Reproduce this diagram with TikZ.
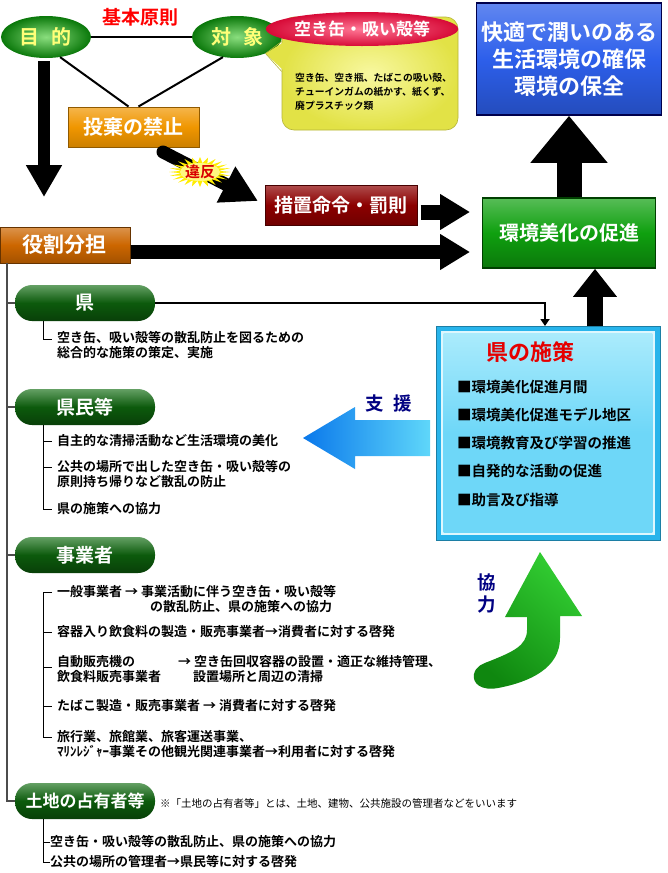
\documentclass[tikz,border=0pt]{standalone}
\usepackage{fontspec}
\setmainfont{Noto Sans CJK JP}[BoldFont={Noto Sans CJK JP Bold}]
\usetikzlibrary{arrows.meta,shapes.geometric,calc}
\newcommand{\jfs}[1]{\fontsize{#1}{#1}\selectfont}
\definecolor{ellG}{RGB}{60,200,40}
\definecolor{ellGd}{RGB}{10,120,10}
\definecolor{ellTxt}{RGB}{255,255,120}
\definecolor{orangeB}{RGB}{240,150,0}
\definecolor{orangeD}{RGB}{204,102,0}
\definecolor{redB}{RGB}{140,0,0}
\definecolor{blueB}{RGB}{45,95,235}
\definecolor{greenB}{RGB}{15,160,15}
\definecolor{pillG}{RGB}{12,90,12}
\definecolor{pillL}{RGB}{100,160,100}
\definecolor{navyT}{RGB}{0,0,130}
\definecolor{callY}{RGB}{226,226,70}
\definecolor{callL}{RGB}{248,248,160}
\definecolor{headR}{RGB}{215,10,55}
\definecolor{headL}{RGB}{255,120,150}
\definecolor{frameC}{RGB}{40,180,235}
\definecolor{panelC}{RGB}{110,215,248}
\definecolor{panelL}{RGB}{170,235,252}
\definecolor{arrB}{RGB}{10,120,235}
\definecolor{arrC}{RGB}{95,215,250}
\definecolor{arrG}{RGB}{50,205,50}
\definecolor{arrGd}{RGB}{15,135,15}
\begin{document}
\begin{tikzpicture}[x=1pt,y=-1pt,
  box/.style={rectangle, text=white, font=\bfseries\jfs{20}, inner sep=0pt},
  pill/.style={rectangle, rounded corners=17pt, minimum width=140pt, minimum height=36pt,
    top color=pillL, bottom color=pillG!70!black, middle color=pillG, text=white, font=\bfseries\jfs{19}},
  item/.style={anchor=west, font=\bfseries\fontsize{13}{15}\selectfont, align=left, inner sep=0pt},
  pitem/.style={anchor=west, font=\bfseries\jfs{14.5}, inner sep=0pt},
  vline/.style={line width=1.3pt, black!70},
  br/.style={line width=0.9pt, black},
  oval/.style={ellipse, minimum width=90pt, minimum height=42pt, shading=radial,
    inner color=ellG!60!white, outer color=ellGd, text=ellTxt, font=\bfseries\jfs{20}}
]
\useasboundingbox (0,0) rectangle (668,873);
\fill[white] (0,0) rectangle (668,873);

% ---- top left: principles ----
\node[font=\bfseries\jfs{19}, text=red] (kihon) at (140,17) {基本原則};
\node[oval] (mokuteki) at (46,37) {目\hspace{0.6em}的};
\node[oval] (taisho) at (237,37) {対\hspace{0.6em}象};
\node[box, minimum width=131pt, minimum height=40pt, top color=orangeB!70!white, bottom color=orangeB!85!black, middle color=orangeB, draw=orangeB!60!black, line width=1pt] (toki) at (133.5,127) {投棄の禁止};
\draw[line width=2.5pt] (mokuteki.east) -- (taisho.west);
\draw[line width=2pt] (mokuteki.-55) -- ([xshift=-5pt]toki.north);
\draw[line width=2pt] (taisho.-125) -- ([xshift=5pt]toki.north);

% ---- callout ----
\node[rectangle, rounded corners=12pt, minimum width=176pt, minimum height=113pt, inner sep=0pt,
  shading=radial, inner color=callL, outer color=callY, draw=callY!80!black, line width=0.6pt] (callout) at (370,73.5) {};
\fill[callY] (taisho.-30) -- ($(callout.west)+(3,-32)$) -- ($(callout.west)+(3,-2)$) -- cycle;
\draw[callY!80!black, line width=0.6pt] (taisho.-30) -- ($(callout.west)+(0,-32)$);
\draw[callY!80!black, line width=0.6pt] (taisho.-30) -- ($(callout.west)+(0,-2)$);
\node[ellipse, minimum width=160pt, minimum height=34pt, shading=radial, inner color=headL, outer color=headR,
  text=white, font=\bfseries\jfs{17}, inner sep=0pt] (ahead) at (362,29) {空き缶・吸い殻等};
\node[anchor=west, font=\bfseries\fontsize{9.8}{14}\selectfont, align=left, inner sep=0pt] (abody) at (295,92)
  {空き缶、空き瓶、たばこの吸い殻、\\チューインガムの紙かす、紙くず、\\廃プラスチック類};

% ---- top right ----
\node[box, minimum width=185pt, minimum height=112pt, top color=blueB!75!white, bottom color=blueB!80!black, middle color=blueB,
  draw=blue!30!black, line width=1.5pt, align=center, font=\bfseries\fontsize{22}{27}\selectfont] (goal) at (569,59)
  {快適で潤いのある\\生活環境の確保\\環境の保全};
\node[box, minimum width=173pt, minimum height=70pt, top color=greenB!70!white, bottom color=greenB!75!black, middle color=greenB,
  draw=green!25!black, line width=1.5pt] (bika) at (569,233) {環境美化の促進};
\draw[line width=25pt, -{Triangle[length=47pt,width=74pt]}] (bika.north) -- (goal.south);

% ---- violation ----
\coordinate (ihs) at (163,152);
\coordinate (ihe) at (258,201);
\node[box, minimum width=152pt, minimum height=40pt, top color=redB!70!white, bottom color=redB!80!black, middle color=redB,
  draw=redB!50!black, line width=1pt, font=\bfseries\jfs{19}] (soti) at (341,205) {措置命令・罰則};
\draw[line width=13pt, line cap=round, -{Triangle[length=36pt,width=38pt]}] (ihs) -- (ihe);
\fill[yellow!95!orange] plot[samples=49, domain=0:48, variable=\t]
  ({200+(mod(round(\t),2)==0 ? 31 : 19)*cos(\t*7.5)}, {172+(mod(round(\t),2)==0 ? 15 : 9)*sin(\t*7.5)}) -- cycle;
\fill[yellow!50!white] (200,172) ellipse (20 and 9);
\node[font=\bfseries\jfs{15}, text=red!85!black] (ihan) at (200,172) {違反};

\coordinate (a1e) at (470,212);
\draw[line width=15pt, -{Triangle[length=30pt,width=34pt]}] ([xshift=3pt,yshift=-7pt]soti.east) -- (a1e);

% ---- role assignment ----
\node[box, minimum width=130pt, minimum height=36pt, top color=orangeD!70!white, bottom color=orangeD!80!black, middle color=orangeD,
  draw=orangeD!50!black, line width=1pt, font=\bfseries\jfs{21}] (yakuwari) at (65,245) {役割分担};
\coordinate (dn) at (44,197);
\draw[line width=12pt, -{Triangle[length=32pt,width=34pt]}] ([xshift=-2pt,yshift=-3pt]mokuteki.south) -- (dn);
\coordinate (a2e) at (470,252);
\draw[line width=14pt, -{Triangle[length=30pt,width=34pt]}] ([yshift=-7pt]yakuwari.east) -- (a2e);

% ---- main tree ----
\coordinate (vtop) at (7,263);
\coordinate (bx) at (43,0);
\node[pill] (ken) at (85,303) {県};
\node[pill] (kenmin) at (85,407) {県民等};
\node[pill] (jigyo) at (85,555) {事業者};
\node[pill, font=\bfseries\jfs{17}] (tochi) at (85,801) {土地の占有者等};
\draw[vline] (vtop) |- (tochi.west);
\draw[vline] (ken.west) -- (ken.west -| vtop);
\draw[vline] (kenmin.west) -- (kenmin.west -| vtop);
\draw[vline] (jigyo.west) -- (jigyo.west -| vtop);

% ---- prefecture panel ----
\node[rectangle, minimum width=224pt, minimum height=214pt, fill=frameC, draw=frameC!70!black, line width=0.8pt] (sesaku) at (548,433) {};
\fill[white!60!panelL] ([shift={(5,5)}]sesaku.north west) rectangle ([shift={(-5,-5)}]sesaku.south east);
\shade[top color=panelL, bottom color=panelC, middle color=panelC] ([shift={(8,8)}]sesaku.north west) rectangle ([shift={(-8,-8)}]sesaku.south east);
\node[font=\bfseries\jfs{22}, text=red!90!black] (stitle) at (530,352) {県の施策};
\node[pitem] (p1) at (457,387) {■環境美化促進月間};
\node[pitem] (p2) at (457,415) {■環境美化促進モデル地区};
\node[pitem] (p3) at (457,443) {■環境教育及び学習の推進};
\node[pitem] (p4) at (457,471) {■自発的な活動の促進};
\node[pitem] (p5) at (457,500) {■助言及び指導};

\coordinate (kenarr) at (545,326);
\draw[line width=2pt, -{Triangle[length=7pt,width=9pt]}] (ken.east) -| (kenarr);
\coordinate (up2s) at (595,326);
\draw[line width=16pt, -{Triangle[length=28pt,width=42pt]}] (up2s) -- (up2s |- bika.south);

% ---- support arrow ----
\shade[left color=arrB, right color=arrC] (303,438) -- (355,407) -- (355,420) -- (430,420) -- (430,456) -- (355,456) -- (355,469) -- cycle;
\node[font=\bfseries\jfs{18.5}, text=navyT] (shien) at (389,403) {支\hspace{0.5em}援};

% ---- cooperation arrow ----
\shade[top color=arrG, bottom color=arrGd, shading angle=-40]
  (505,617) -- (540,552) -- (582,616) -- (560,616) -- (560,638)
  .. controls (560,668) and (530,682) .. (498,688)
  .. controls (482,691) and (472,684) .. (474,674)
  .. controls (476,666) and (482,664) .. (490,661)
  .. controls (512,652) and (527,646) .. (527,630) -- (527,617) -- cycle;
\node[font=\bfseries\fontsize{18.5}{22}\selectfont, text=navyT, align=center] (kyoryoku) at (487,594) {協\\力};

% ---- 県 items ----
\node[item] (k1) at (57,345) {空き缶、吸い殻等の散乱防止を図るための\\総合的な施策の策定、実施};
\coordinate (kt1) at (52,339);
\draw[br] (ken.south -| bx) |- (kt1);

% ---- 県民等 items ----
\node[item] (m1) at (57,441) {自主的な清掃活動など生活環境の美化};
\node[item] (m2) at (57,474) {公共の場所で出した空き缶・吸い殻等の\\原則持ち帰りなど散乱の防止};
\node[item] (m3) at (57,509) {県の施策への協力};
\coordinate (mt1) at (52,441);
\coordinate (mt2) at (52,467);
\coordinate (mt3) at (52,509);
\draw[br] (kenmin.south -| bx) |- (mt3);
\draw[br] (mt1 -| bx) -- (mt1);
\draw[br] (mt2 -| bx) -- (mt2);

% ---- 事業者 items ----
\node[item] (j1) at (57,592) {一般事業者 → 事業活動に伴う空き缶・吸い殻等};
\node[item] (j1b) at (150,607) {の散乱防止、県の施策への協力};
\node[item] (j2) at (57,632) {容器入り飲食料の製造・販売事業者→消費者に対する啓発};
\node[item] (j3) at (57,662) {自動販売機の};
\node[item] (j3r) at (178,662) {→ 空き缶回収容器の設置・適正な維持管理、};
\node[item] (j3b) at (57,677) {飲食料販売事業者};
\node[item] (j3c) at (193,677) {設置場所と周辺の清掃};
\node[item] (j4) at (57,706) {たばこ製造・販売事業者 → 消費者に対する啓発};
\node[item] (j5) at (57,744) {旅行業、旅館業、旅客運送事業、\\ﾏﾘﾝﾚｼﾞｬｰ事業その他観光関連事業者→利用者に対する啓発};
\coordinate (jt1) at (52,592);
\coordinate (jt2) at (52,632);
\coordinate (jt3) at (52,667);
\coordinate (jt4) at (52,706);
\coordinate (jt5) at (52,737);
\draw[br] (jt1) -| (jt5 -| bx) -- (jt5);
\draw[br] (jt2 -| bx) -- (jt2);
\draw[br] (jt3 -| bx) -- (jt3);
\draw[br] (jt4 -| bx) -- (jt4);

% ---- 土地 items ----
\node[anchor=west, font=\jfs{10.5}, inner sep=0pt] (note) at (160,803) {※「土地の占有者等」とは、土地、建物、公共施設の管理者などをいいます};
\node[item] (t1) at (50,842) {空き缶・吸い殻等の散乱防止、県の施策への協力};
\node[item] (t2) at (50,862) {公共の場所の管理者→県民等に対する啓発};
\draw[br] (tochi.south -| bx) |- (t2.west);
\draw[br] (t1.west -| bx) -- (t1.west);
\end{tikzpicture}
\end{document}
